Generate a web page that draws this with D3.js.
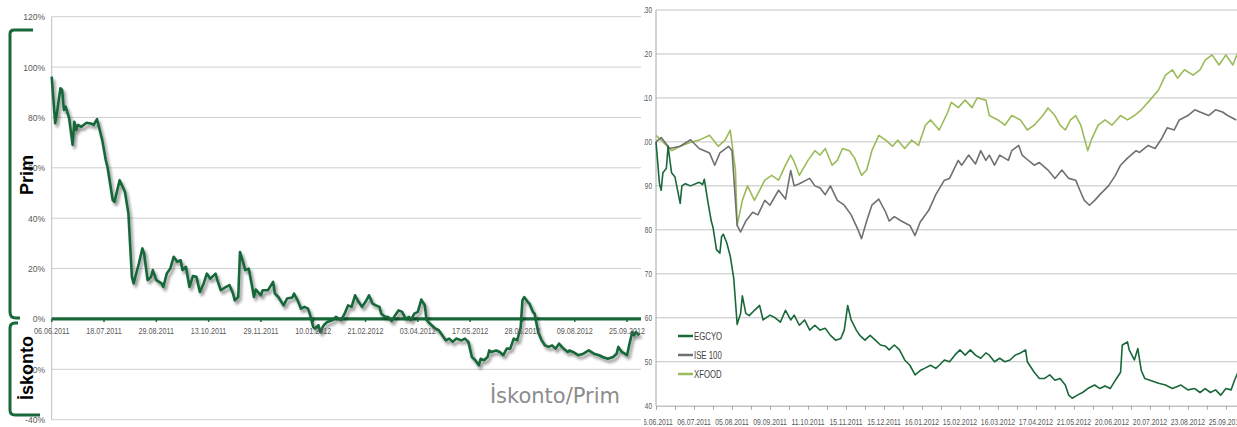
<!DOCTYPE html>
<html>
<head>
<meta charset="utf-8">
<script src="https://cdn.jsdelivr.net/npm/d3@7"></script>
<style>
  body { margin: 0; background: #fff; }
  svg { display: block; }
  .lbl { font-family: "Liberation Sans", Arial, sans-serif; fill: #595959; }
</style>
</head>
<body>
<script>
// left chart: discount / premium (%), x = trading day index
var premDay = [0,2,3,5,6,7,8,10,12,13,14,15,17,20,23,24,26,29,31,32,35,36,39,42,44,46,47,50,52,53,55,57,58,60,63,64,66,68,70,72,74,75,77,79,81,83,85,87,89,91,94,95,97,100,102,104,105,107,108,110,111,113,115,116,117,120,121,124,127,128,130,133,135,138,139,141,143,145,147,148,150,151,153,154,156,158,161,163,166,168,170,172,174,176,178,180,182,184,186,188,189,191,193,195,197,199,201,203,205,206,208,210,212,214,215,217,220,222,224,226,228,230,232,235,237,239,241,243,245,246,248,250,251,252,255,257,259,261,263,265,267,269,270,271,273,274,276,277,279,281,283,285,287,289,291,293,296,297,299,302,305,308,311,314,316,319,322,324,325,327,330,331,333,334,335,337];
var premVal = [96.2,77.7,81.7,91.6,90.9,83,84.3,79.7,69.1,78.3,75,77,76.3,77.9,77.5,77,79.3,71,63.1,60.4,47.2,46.5,55.1,50.5,41.9,16.7,14.1,22,28,26,15.4,16.7,19.4,15.4,14.1,12.7,18,20,24.7,22.7,23.3,19.4,20.7,12.7,17,16.7,10.7,13.8,18,16,18,15.4,11.4,12.7,13.4,10.1,7.4,8.7,26.6,22,19.4,20,12.7,8.7,11.7,9.4,11.4,11.4,14.7,10.1,8.7,5.4,8.1,8.5,10.1,7.4,4.1,4.8,4.1,2.1,-3.2,-3.8,-2.5,-5.2,-2.5,-1.2,-0.5,0.8,-0.5,2.1,5.4,4.8,9.4,6.8,4.8,6.8,9.4,6.1,5.4,4.8,2.1,1,0.8,-0.9,1.5,3.4,2.8,0,0.8,-0.5,2.1,2.8,7.7,5.4,-0.5,-1.9,-3.8,-4.5,-6.5,-8.5,-7.8,-9.1,-7.8,-8.5,-7.8,-9.1,-15.1,-16.4,-18.4,-15.8,-16.4,-15.1,-12.5,-13.1,-12.5,-13.1,-14.4,-11.8,-11.8,-7.8,-8.5,-3.2,7.4,8.7,6.8,6.1,2.8,2.1,-5.2,-8.5,-10.5,-11.1,-10.5,-11.8,-9.8,-11.4,-13.1,-12.5,-13.1,-14.4,-13.8,-12.5,-13.8,-14.4,-15.1,-15.8,-15.1,-13.8,-11.1,-13.1,-14.4,-11.1,-5.2,-6.5,-5.2,-6.5];
var premTicks = [-40,-20,0,20,40,60,80,100,120];
var premDates = ["06.06.2011","18.07.2011","29.08.2011","13.10.2011","29.11.2011","10.01.2012","21.02.2012","03.04.2012","17.05.2012","28.06.2012","09.08.2012","25.09.2012"];

// right chart: indexed prices (start = 100)
var egcyoDay = [0,2,3,4,6,7,8,9,11,13,14,15,17,20,25,27,28,30,32,33,35,37,38,39,41,43,45,47,49,50,52,54,57,60,62,66,69,72,75,78,80,83,86,89,92,95,98,101,104,107,109,111,113,116,118,121,124,127,130,133,135,138,141,144,147,150,153,156,159,162,164,167,170,173,176,179,182,185,188,191,193,196,199,202,205,208,211,214,215,219,222,225,228,231,234,237,239,241,244,247,250,254,257,260,263,266,269,270,273,274,277,279,281,283,286,291,295,299,304,308,312,315,318,321,324,327,330,333,335,337];
var egcyoVal = [100,90.5,89,93,94,99,96,93,92,88,86,90,90.5,90,90.8,90.3,91.5,86.5,82,80.6,75.5,74.7,78.5,79,77,74,69,58.5,61,65,61,60.5,61.7,62.8,59.5,60.6,60,59,61.7,59.5,60.6,58.3,59.5,57.2,58.3,57.2,57.6,56,54.9,55.3,57.2,62.8,59.5,57.2,56,54.9,56,54.9,53.8,53.5,52.7,53.8,52.7,50.4,49.2,47,48,48.6,49.2,48.5,49.2,50.4,50,51.5,52.7,51.5,52.7,51.5,50.8,52,51.5,50,50.8,50,50.4,51.5,52,52.7,50,47.6,46.2,46.2,47,45.8,46.2,44.7,42.4,41.7,42.4,43,43.9,44.7,43.9,44.5,43.9,45.8,47.6,53.8,54.5,52.7,50.4,53,48,46.2,45.8,45.1,44.7,43.9,44.7,43.6,43.9,43,43.9,43,43.6,42.4,43.9,43.6,45.8,47.6];
var iseDay = [0,3,8,14,20,25,31,34,37,42,44,47,49,52,56,59,63,66,71,75,78,80,83,89,92,95,98,101,105,109,113,117,119,122,125,129,133,135,138,142,147,150,153,158,162,167,170,175,177,181,185,188,191,193,196,199,204,206,210,212,215,219,222,227,231,235,239,243,246,248,251,254,257,262,266,269,273,278,280,285,289,293,296,300,303,308,312,315,320,324,328,331,336];
var iseVal = [100,101,98.5,99,100.5,98.5,97.5,94.7,97.5,99,98,81,79.5,82,84,83.4,86.7,85.6,89,87,93.5,90,90.5,91.7,90,89.5,88,90,86.7,85.6,83.4,80,78,82,85.6,87,84,82,83,82,81,78.7,81.8,84.5,88,91.3,91.7,95.8,94.7,97,95,98,95.8,97,94.7,97,95.8,98,99.2,97,96,94.7,95.3,93.6,91.7,93.6,91.7,91.3,88.5,86.7,85.6,86.7,88,90,92.4,94.7,96.3,98,97.6,99.2,98.5,100.9,103.2,102.7,105,106,107.3,106.8,106,107.3,106.8,106,105];
var xfoodDay = [0,3,9,14,20,25,31,36,40,43,46,47,50,53,57,60,63,67,71,75,78,80,83,88,92,95,98,102,105,108,112,115,119,122,125,129,133,137,140,144,148,152,156,159,164,169,171,175,179,183,186,191,193,198,202,206,211,215,219,224,227,231,234,237,240,243,246,250,252,256,260,264,269,273,277,281,286,291,295,299,302,306,311,315,318,322,326,330,334,337];
var xfoodVal = [101.5,100.4,98,99,99.9,100.4,101.5,99,100.4,102.7,93.6,81,86.7,90,86.7,89,91.3,92.4,91.3,94.7,97,95.5,92.4,95.8,98,97,98.5,94.7,95.8,98.5,98,96.3,92.4,93.6,98,101.5,100.4,99,100.4,98.5,100.4,99.2,103.8,105,102.7,106.8,109,107.8,109.5,107.8,110,109.5,106,105,103.8,106,105,102.7,103.8,106,107.7,106,103.8,102.7,105,106,103.8,98,100.4,103.8,105,103.8,106,105,106,107.3,109.5,111.8,115.2,116.4,114.5,116.4,115.2,116.4,118.6,119.8,117.5,119.8,117.5,120.4];
var idxTicks = [40,50,60,70,80,90,100,110,120,130];
var idxDates = ["06.06.2011","06.07.2011","05.08.2011","09.09.2011","11.10.2011","15.11.2011","15.12.2011","16.01.2012","15.02.2012","16.03.2012","17.04.2012","21.05.2012","20.06.2012","20.07.2012","23.08.2012","25.09.2012"];
var seriesNames = ["EGCYO", "ISE 100", "XFOOD"];
var seriesColors = ["#19683a", "#707070", "#9bbb59"];

var W = 1237, H = 427;
var svg = d3.select("body").append("svg").attr("width", W).attr("height", H);

// squeezed small label (the original uses a narrow font)
function narrowText(g, x, y, txt, size, sx, anchor) {
  return g.append("text").attr("class", "lbl")
    .attr("transform", "translate(" + x + "," + y + ") scale(" + sx + ",1)")
    .attr("text-anchor", anchor).attr("font-size", size + "px").text(txt);
}

var defs = svg.append("defs");
var f = defs.append("filter").attr("id", "shadow").attr("x", "-5%").attr("y", "-5%").attr("width", "115%").attr("height", "115%");
f.append("feGaussianBlur").attr("in", "SourceAlpha").attr("stdDeviation", 1.4).attr("result", "b");
f.append("feOffset").attr("in", "b").attr("dx", 2).attr("dy", 2.5).attr("result", "o");
f.append("feComponentTransfer").attr("in", "o").attr("result", "s")
  .append("feFuncA").attr("type", "linear").attr("slope", 0.45);
var fm = f.append("feMerge");
fm.append("feMergeNode").attr("in", "s");
fm.append("feMergeNode").attr("in", "SourceGraphic");
defs.append("clipPath").attr("id", "rclip").append("rect")
  .attr("x", 644).attr("y", 0).attr("width", W - 644).attr("height", H);

// ---------- left chart ----------
var xL = d3.scaleLinear().domain([0, 338]).range([51.7, 641]);
var yL = d3.scaleLinear().domain([-40, 120]).range([419.7, 16.7]);
var left = svg.append("g");

left.append("g").selectAll("line").data(premTicks.filter(function(d) { return d !== 0; })).enter().append("line")
  .attr("x1", xL(0)).attr("x2", xL(338))
  .attr("y1", function(d) { return yL(d); }).attr("y2", function(d) { return yL(d); })
  .attr("stroke", "#cfcfcf").attr("stroke-width", 1);

left.append("line").attr("x1", xL(0)).attr("x2", xL(0)).attr("y1", yL(120)).attr("y2", yL(-40))
  .attr("stroke", "#bdbdbd");

premTicks.forEach(function(d) {
  narrowText(left, 45, yL(d) + 3.5, d + "%", 9.5, 0.9, "end");
});

var lineL = d3.line().x(function(d) { return xL(d[0]); }).y(function(d) { return yL(d[1]); });
var premPts = premDay.map(function(d, i) { return [d, premVal[i]]; });

// zero axis (thick green)
left.append("line").attr("x1", xL(0)).attr("x2", xL(338)).attr("y1", yL(0)).attr("y2", yL(0))
  .attr("stroke", "#19683a").attr("stroke-width", 3.2);
left.append("g").selectAll("line").data(premDates).enter().append("line")
  .attr("x1", function(d, i) { return xL(i * 30); }).attr("x2", function(d, i) { return xL(i * 30); })
  .attr("y1", yL(0)).attr("y2", yL(0) + 3)
  .attr("stroke", "#19683a").attr("stroke-width", 1.5);

left.append("path").datum(premPts).attr("d", lineL)
  .attr("fill", "none").attr("stroke", "#19683a").attr("stroke-width", 2.6)
  .attr("stroke-linejoin", "round").attr("filter", "url(#shadow)");

premDates.forEach(function(d, i) {
  narrowText(left, xL(i * 30), 334, d, 9.5, 0.76, "middle");
});

// brackets
left.append("path").attr("d", "M33,30 L14,30 Q10,30 10,34 L10,312 Q10,318 16,318 L20,318")
  .attr("fill", "none").attr("stroke", "#19683a").attr("stroke-width", 3);
left.append("path").attr("d", "M18,323 L15,323 Q10,323 10,328 L10,410 Q10,415 15,415 L40,415")
  .attr("fill", "none").attr("stroke", "#19683a").attr("stroke-width", 3);
left.append("text").attr("transform", "translate(33,175) rotate(-90)")
  .attr("text-anchor", "middle").attr("font-family", "Liberation Sans, Arial, sans-serif")
  .attr("font-weight", "bold").attr("font-size", "18px").attr("fill", "#000").text("Prim");
left.append("text").attr("transform", "translate(33,368) rotate(-90)")
  .attr("text-anchor", "middle").attr("font-family", "Liberation Sans, Arial, sans-serif")
  .attr("font-weight", "bold").attr("font-size", "18px").attr("fill", "#000").text("İskonto");
left.append("text").attr("x", 620).attr("y", 403).attr("text-anchor", "end")
  .attr("font-family", "DejaVu Sans, Verdana, sans-serif").attr("font-size", "21px")
  .attr("fill", "#8c8c8c").text("İskonto/Prim");

// ---------- right chart ----------
var xR = d3.scaleLinear().domain([0, 338]).range([656, 656 + 338 * 1.727]);
var yR = d3.scaleLinear().domain([40, 130]).range([405.7, 10]);
var right = svg.append("g").attr("clip-path", "url(#rclip)");

right.append("g").selectAll("line").data(idxTicks.slice(1)).enter().append("line")
  .attr("x1", xR(0)).attr("x2", W)
  .attr("y1", function(d) { return yR(d); }).attr("y2", function(d) { return yR(d); })
  .attr("stroke", "#c3c3c3");
right.append("line").attr("x1", xR(0)).attr("x2", xR(0)).attr("y1", yR(130)).attr("y2", yR(40))
  .attr("stroke", "#a6a6a6");

var axisR = d3.axisBottom(xR).tickValues(d3.range(0, 338, 11)).tickSize(4).tickFormat("");
var gx = right.append("g").attr("transform", "translate(0," + yR(40) + ")").call(axisR);
gx.select(".domain").attr("stroke", "#a6a6a6");
gx.selectAll(".tick line").attr("stroke", "#a6a6a6");

idxTicks.forEach(function(d) {
  narrowText(right, 652, yR(d) + 3.2, d, 9, 0.72, "end");
});
idxDates.forEach(function(d, i) {
  narrowText(right, xR(i * 22), 424.5, d, 9.5, 0.72, "middle");
});

var lineR = d3.line().x(function(d) { return xR(d[0]); }).y(function(d) { return yR(d[1]); });
var rSeries = [
  [egcyoDay, egcyoVal],
  [iseDay, iseVal],
  [xfoodDay, xfoodVal]
];
// draw XFOOD, ISE, EGCYO order so dark green sits on top
[2, 1, 0].forEach(function(k) {
  var pts = rSeries[k][0].map(function(d, i) { return [d, rSeries[k][1][i]]; });
  right.append("path").datum(pts).attr("d", lineR)
    .attr("fill", "none").attr("stroke", seriesColors[k]).attr("stroke-width", 1.6)
    .attr("stroke-linejoin", "round");
});

var legY = [336, 355, 374];
var leg = right.append("g");
seriesNames.forEach(function(n, i) {
  leg.append("line").attr("x1", 678).attr("x2", 693).attr("y1", legY[i]).attr("y2", legY[i])
    .attr("stroke", seriesColors[i]).attr("stroke-width", 2.5);
  narrowText(leg, 694, legY[i] + 3.5, n, 10, 0.78, "start").style("fill", "#404040");
});
</script>
</body>
</html>
